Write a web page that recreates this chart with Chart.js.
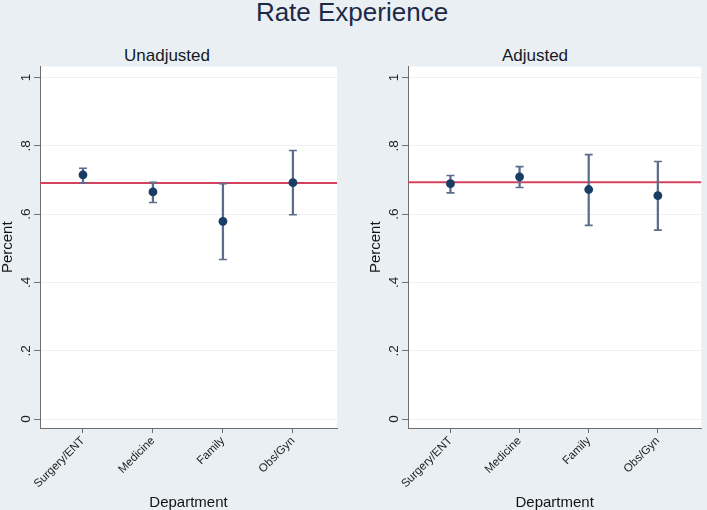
<!DOCTYPE html>
<html>
<head>
<meta charset="utf-8">
<script src="https://cdn.jsdelivr.net/npm/chart.js@4/dist/chart.umd.min.js"></script>
<style>
  html, body { margin: 0; padding: 0; background: #e9eff2; overflow: hidden; }
  body { width: 707px; height: 510px; position: relative; font-family: "Liberation Sans", Arial, sans-serif; }
  .t { position: absolute; white-space: nowrap; transform: translateX(-50%); line-height: 1; }
  #title { font-size: 26px; color: #1c2a48; left: 352px; top: -1px; }
  .sub { font-size: 17px; color: #141a26; top: 47px; }
  #sub1 { left: 167px; }
  #sub2 { left: 535px; }
  canvas { position: absolute; top: 0; }
  #c1 { left: 0; }
  #c2 { left: 368px; }
</style>
</head>
<body>
<div id="title" class="t">Rate Experience</div>
<div id="sub1" class="t sub">Unadjusted</div>
<div id="sub2" class="t sub">Adjusted</div>
<canvas id="c1" width="350" height="510"></canvas>
<canvas id="c2" width="339" height="510"></canvas>
<script>
// ---- data ----
const departments = ['Surgery/ENT', 'Medicine', 'Family', 'Obs/Gyn'];

const unadjMean = [0.715, 0.665, 0.579, 0.692];
const unadjLow  = [0.691, 0.634, 0.467, 0.598];
const unadjHigh = [0.734, 0.693, 0.689, 0.786];
const unadjRef  = 0.691;

const adjMean = [0.689, 0.709, 0.672, 0.654];
const adjLow  = [0.662, 0.678, 0.567, 0.553];
const adjHigh = [0.713, 0.739, 0.774, 0.754];
const adjRef  = 0.693;

const yTickValues = [0, 0.2, 0.4, 0.6, 0.8, 1];
const yTickLabels = ['0', '.2', '.4', '.6', '.8', '1'];

// ---- styling ----
Chart.defaults.font.family = '"Liberation Sans", Arial, sans-serif';
const NAVY = '#1a3d66';
const ERR = '#5b6c8c';
const RED = '#d2435f';
const AXIS = '#6f6f6f';
const X_MIN = 0.386, X_MAX = 4.63;
const Y_MIN = -0.026, Y_MAX = 1.032;

const plotBg = {
  id: 'plotBg',
  beforeDraw(chart) {
    const {ctx, chartArea: a} = chart;
    ctx.save();
    ctx.fillStyle = '#ffffff';
    ctx.fillRect(a.left, a.top, a.right - a.left, a.bottom - a.top);
    ctx.restore();
  }
};

function makePanel(id, mean, low, high, ref, padRight) {
  const caps = [];
  departments.forEach((d, i) => {
    caps.push({x: i + 1, y: low[i]});
    caps.push({x: i + 1, y: high[i]});
  });
  return new Chart(document.getElementById(id), {
    type: 'bar',
    data: {
      datasets: [
        {
          type: 'line',
          data: [{x: X_MIN, y: ref}, {x: X_MAX, y: ref}],
          borderColor: RED, borderWidth: 2, pointRadius: 0, order: 4
        },
        {
          type: 'bar',
          data: departments.map((d, i) => ({x: i + 1, y: [low[i], high[i]]})),
          backgroundColor: ERR, borderWidth: 0, barThickness: 1.6, order: 3
        },
        {
          type: 'scatter',
          data: caps,
          pointStyle: 'line', pointRadius: 4, borderColor: ERR, borderWidth: 1.6, order: 2
        },
        {
          type: 'scatter',
          data: departments.map((d, i) => ({x: i + 1, y: mean[i]})),
          pointStyle: 'circle', pointRadius: 4.4, backgroundColor: NAVY, borderColor: NAVY, borderWidth: 0, order: 1
        }
      ]
    },
    options: {
      responsive: false,
      animation: false,
      events: [],
      layout: { padding: { top: 66.5, left: 0, right: padRight, bottom: 0 } },
      plugins: { legend: { display: false }, tooltip: { enabled: false }, title: { display: false } },
      scales: {
        x: {
          type: 'linear', min: X_MIN, max: X_MAX, offset: false,
          afterBuildTicks: s => { s.ticks = departments.map((d, i) => ({value: i + 1})); },
          afterFit: s => { s.height = 82; },
          ticks: {
            callback: (v, i) => departments[i],
            minRotation: 45, maxRotation: 45, autoSkip: false,
            font: { size: 11.5 }, color: '#222', padding: 1
          },
          grid: { offset: false, drawOnChartArea: false, drawTicks: true, tickLength: 5, tickColor: AXIS, tickWidth: 1 },
          border: { display: true, color: AXIS, width: 1 },
          title: { display: true, text: 'Department', font: { size: 15, lineHeight: 1 }, color: '#141414', padding: 0 }
        },
        y: {
          type: 'linear', min: Y_MIN, max: Y_MAX,
          afterBuildTicks: s => { s.ticks = yTickValues.map(v => ({value: v})); },
          afterFit: s => { s.width = 40; },
          ticks: {
            callback: (v, i) => yTickLabels[i],
            minRotation: 90, maxRotation: 90, crossAlign: 'center',
            font: { size: 13.5 }, color: '#222', padding: 2
          },
          grid: { color: '#edf1f4', lineWidth: 1, drawTicks: true, tickLength: 6, tickColor: AXIS, tickWidth: 1 },
          border: { display: true, color: AXIS, width: 1 },
          title: { display: true, text: 'Percent', font: { size: 15, lineHeight: 1 }, color: '#141414', padding: 0 }
        }
      }
    },
    plugins: [plotBg]
  });
}

makePanel('c1', unadjMean, unadjLow, unadjHigh, unadjRef, 13);
makePanel('c2', adjMean, adjLow, adjHigh, adjRef, 2);
</script>
</body>
</html>
